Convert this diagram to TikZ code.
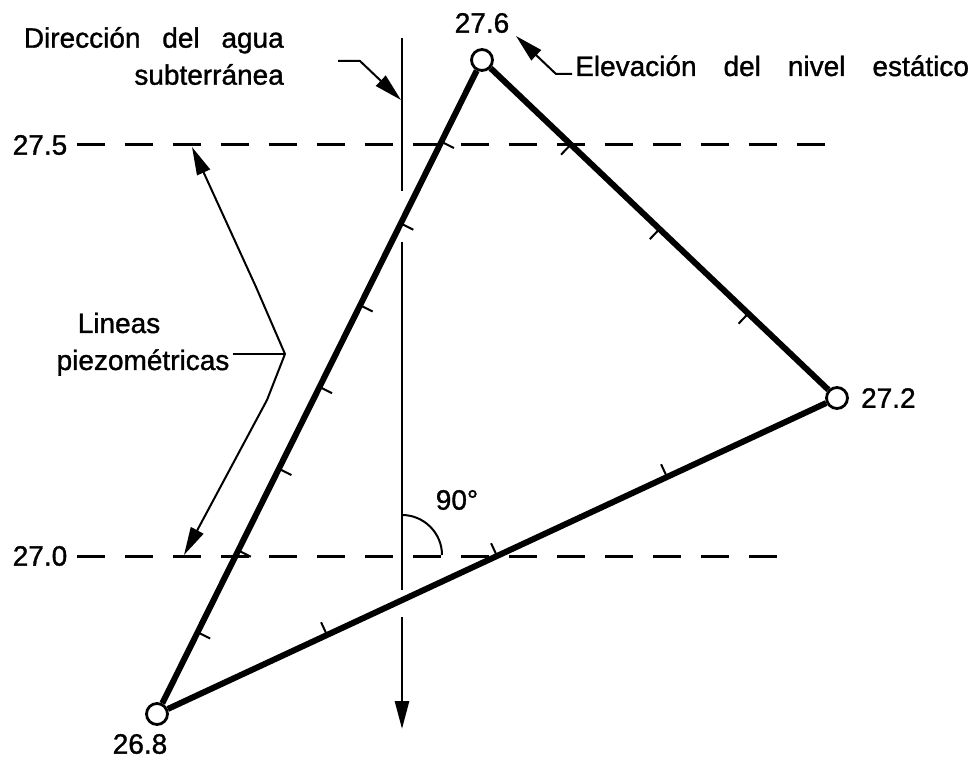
\documentclass[tikz,border=0pt]{standalone}
\usepackage{fontspec}
\setmainfont{Liberation Sans}[WordSpace=2.8, FakeBold=1.2]
\usepackage{tikz}
\usetikzlibrary{arrows.meta, positioning, calc}

\begin{document}
\begin{tikzpicture}[
  x=1pt, y=-1pt,
  well/.style={circle, draw, fill=white, line width=2.8pt, inner sep=0pt, minimum size=21pt},
  side/.style={line width=6pt},
  piezo/.style={line width=3pt, dash pattern=on 28pt off 20pt},
  flow/.style={line width=2.8pt},
  lead/.style={line width=2pt},
  arr/.style={-{Triangle[length=28pt, width=14pt]}},
  tic/.style={line width=2pt},
  lbl/.style={font=\fontsize{28}{37}\selectfont, inner sep=3pt}
]
  \useasboundingbox (0,0) rectangle (975,759);

  % ── Pozos de observacion ──
  \node[well] (a) at (482,60) {};
  \node[well] (b) at (837,398) {};
  \node[well] (c) at (157,714) {};

  \node[lbl, above=12pt of a] (ta) {27.6};
  \node[lbl, right=9pt of b] (tb) {27.2};
  \node[lbl, below=5pt of c, xshift=-17pt] (tc) {26.8};

  \draw[side] (c) -- (a);
  \draw[side] (a) -- (b);
  \draw[side] (b) -- (c);

  % ── Marcas cada 0.1 ──
  \foreach \t in {1,...,7}
    \draw[tic] ($(c)!\t/8!(a)$) -- ($(c)!\t/8!(a)!14pt!-90:(a)$);
  \foreach \t in {1,2,3} {
    \draw[tic] ($(a)!\t/4!(b)$) -- ($(a)!\t/4!(b)!14pt!-90:(b)$);
    \draw[tic] ($(b)!\t/4!(c)$) -- ($(b)!\t/4!(c)!14pt!-90:(c)$);
  }

  % ── Lineas piezometricas ──
  \node[lbl] (l275) at (40,145) {27.5};
  \node[lbl] (l270) at (40,556) {27.0};
  \coordinate (r275) at (828,145);
  \coordinate (r270) at (777,556);
  \draw[piezo, shorten <=7pt] (l275.east) -- (r275);
  \draw[piezo, shorten <=7pt] (l270.east) -- (r270);

  % ── Direccion del flujo ──
  \coordinate (v0) at (402,38);
  \coordinate (v1) at (402,191);
  \coordinate (v2) at (402,242);
  \coordinate (v3) at (402,590);
  \coordinate (v4) at (402,617);
  \coordinate (v5) at (402,729);
  \draw[flow] (v0) -- (v1);
  \draw[flow] (v2) -- (v3);
  \draw[flow, arr] (v4) -- (v5);

  \draw[lead] (402,515) .. controls (424,515) and (442,533) .. (442,555);
  \node[lbl] (ang) at (457,500) {90°};

  % ── Rotulos ──
  \node[lbl, align=right, anchor=east] (dir) at (287,56) {Dirección del agua\\subterránea};
  \coordinate (dirs) at (338,61);
  \coordinate (dirk) at (360,61);
  \coordinate (dirt) at (401,100);
  \draw[lead, arr] (dirs) -- (dirk) -- (dirt);

  \node[lbl, anchor=base west] (elev) at (572,76) {\spaceskip=27pt\relax Elevación del nivel estático};
  \coordinate (elk) at (556,74);
  \coordinate (elt) at (516,36);
  \draw[lead, arr] (elev.west |- elk) -- (elk) -- (elt);

  \node[lbl, anchor=base] (lin) at (119,333) {Lineas};
  \node[lbl, anchor=base] (pzm) at (143,370) {piezométricas};
  \coordinate (pzf) at (285,354);
  \coordinate (pzk1) at (256,287);
  \coordinate (pzt1) at (192,147);
  \coordinate (pzk2) at (267,400);
  \coordinate (pzt2) at (184,555);
  \draw[lead] (pzm.east |- pzf) -- (pzf);
  \draw[lead, arr] (pzf) -- (pzk1) -- (pzt1);
  \draw[lead, arr] (pzf) -- (pzk2) -- (pzt2);
\end{tikzpicture}
\end{document}
